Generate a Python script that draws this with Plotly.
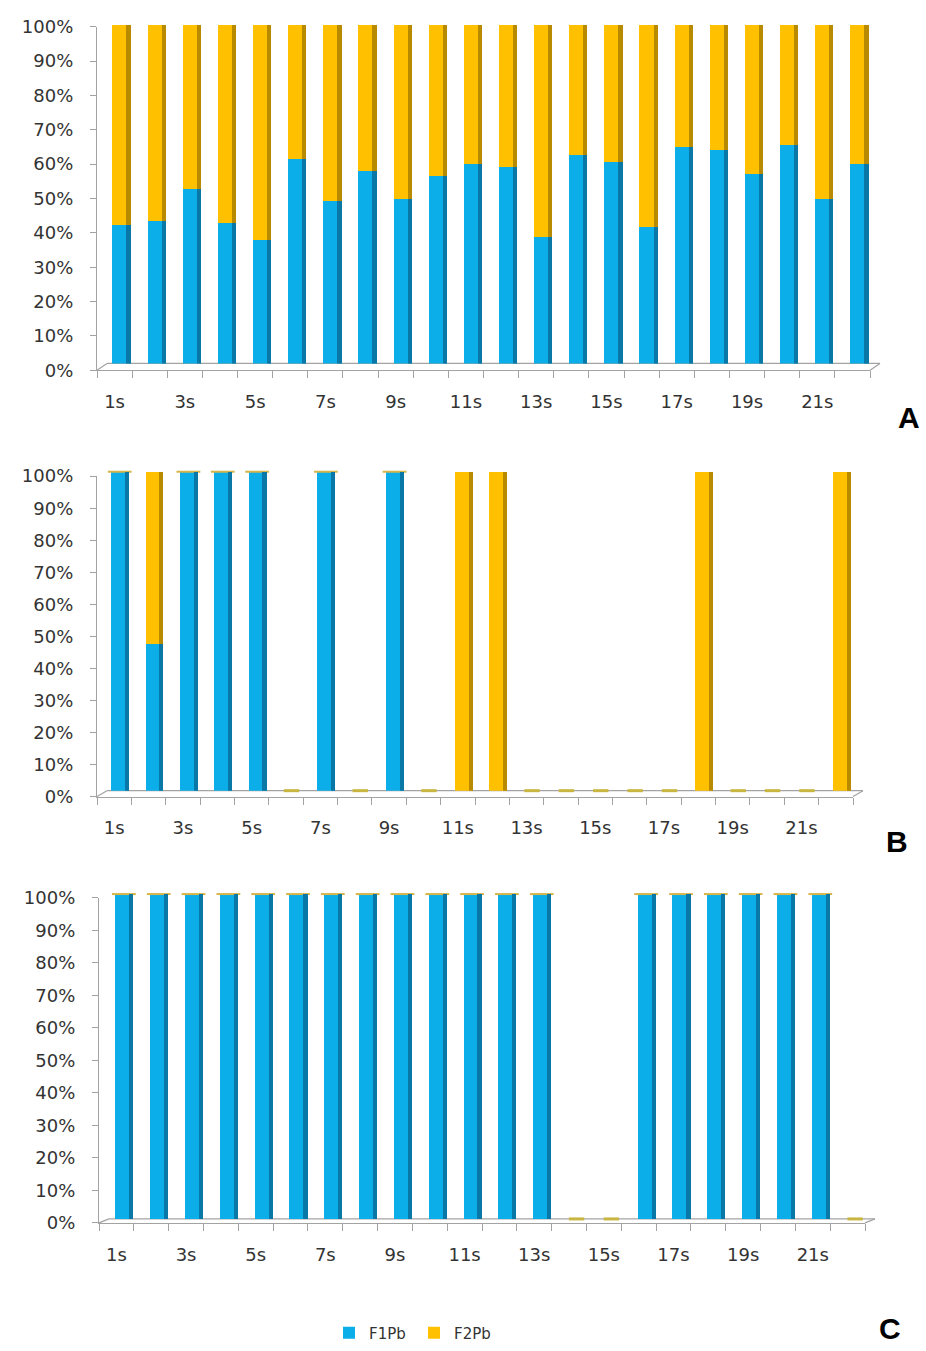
import plotly.graph_objects as go

# ---------------------------------------------------------------- data
categories = ["1s", "2s", "3s", "4s", "5s", "6s", "7s", "8s", "9s", "10s", "11s",
              "12s", "13s", "14s", "15s", "16s", "17s", "18s", "19s", "20s", "21s", "22s"]

# Panel A (percent share of each fraction)
a_f1pb = [41, 42, 51.5, 41.5, 36.5, 60.5, 48, 57, 48.5, 55.5, 59,
          58, 37.5, 61.5, 59.5, 40.5, 64, 63, 56, 64.5, 48.5, 59]
a_f2pb = [59, 58, 48.5, 58.5, 63.5, 39.5, 52, 43, 51.5, 44.5, 41,
          42, 62.5, 38.5, 40.5, 59.5, 36, 37, 44, 35.5, 51.5, 41]

# Panel B
b_f1pb = [100, 46, 100, 100, 100, 0, 100, 0, 100, 0, 0,
          0, 0, 0, 0, 0, 0, 0, 0, 0, 0, 0]
b_f2pb = [0, 54, 0, 0, 0, 0, 0, 0, 0, 0, 100,
          100, 0, 0, 0, 0, 0, 100, 0, 0, 0, 100]

# Panel C
c_f1pb = [100, 100, 100, 100, 100, 100, 100, 100, 100, 100, 100,
          100, 100, 0, 0, 100, 100, 100, 100, 100, 100, 0]
c_f2pb = [0, 0, 0, 0, 0, 0, 0, 0, 0, 0, 0,
          0, 0, 0, 0, 0, 0, 0, 0, 0, 0, 0]

series_names = ["F1Pb", "F2Pb"]
y_ticks = [0, 10, 20, 30, 40, 50, 60, 70, 80, 90, 100]
y_tick_labels = ["0%", "10%", "20%", "30%", "40%", "50%", "60%", "70%", "80%", "90%", "100%"]

# ---------------------------------------------------------------- style
W, H = 926, 1351
BLUE, BLUE_DARK = "#0BAEE8", "#0A78A6"
GOLD, GOLD_DARK = "#FFC000", "#B88A00"
FLOOR_MARK = "#C9B640"
AXIS_GREY = "#A3A3A3"
TEXT = "#333333"
FONT = "DejaVu Sans"
TICK_SIZE = 18

BAR_W = 0.52
STRIP_W = 0.12


def px(x):
    return x / W


def py(y):
    return 1 - y / H


# pixel geometry of each panel: front axes + the raised "3-D" floor the bars stand on
panels = [
    dict(f1=a_f1pb, f2=a_f2pb, x0=97, x1=870, y0=365, y1=16, by0=358, by1=14,
         dx=6.5, letter="A", lx=909, ly=413),
    dict(f1=b_f1pb, f2=b_f2pb, x0=97, x1=853, y0=798, y1=472.5, by0=792, by1=468,
         dx=5.5, letter="B", lx=897, ly=844),
    dict(f1=c_f1pb, f2=c_f2pb, x0=99, x1=865, y0=1231, y1=901, by0=1227, by1=897,
         dx=7.5, letter="C", lx=890, ly=1338),
]

fig = go.Figure()
layout = dict(
    width=W, height=H, autosize=False,
    margin=dict(l=0, r=0, t=0, b=0, pad=0),
    paper_bgcolor="white", plot_bgcolor="rgba(0,0,0,0)",
    barmode="stack", bargap=0,
    showlegend=True,
    legend=dict(orientation="h", x=px(329), y=py(1343), xanchor="left", yanchor="middle",
                font=dict(family=FONT, size=15, color=TEXT), traceorder="normal",
                itemwidth=30, entrywidth=40, entrywidthmode="pixels",
                bgcolor="rgba(0,0,0,0)"),
    shapes=[], annotations=[],
)


def key(a):
    return a[0] + "axis" + (a[1:] if a[1:] != "1" else "")


for k, p in enumerate(panels):
    n = 3 * k
    fx, fy = f"x{n + 1}", f"y{n + 1}"          # visible front axes
    bx, by = f"x{n + 2}", f"y{n + 2}"          # axes carrying the bars
    sy = f"y{n + 3}"                           # overlay for the shaded bar sides

    # front axes (ticks and labels)
    layout[key(fx)] = dict(
        type="category", domain=[px(p["x0"]), px(p["x1"])], anchor=fy,
        range=[-0.5, len(categories) - 0.5], tickson="boundaries",
        ticks="outside", ticklen=7, tickcolor=AXIS_GREY, ticklabelstep=2,
        ticklabelstandoff=15, tickangle=0,
        showline=True, linecolor=AXIS_GREY, linewidth=1.2, showgrid=False,
        zeroline=False, tickfont=dict(family=FONT, size=TICK_SIZE, color=TEXT),
    )
    layout[key(fy)] = dict(
        domain=[py(p["y0"]), py(p["y1"])], anchor=fx, range=[0, 100],
        tickmode="array", tickvals=y_ticks, ticktext=y_tick_labels,
        ticks="outside", ticklen=6, tickcolor=AXIS_GREY, ticklabelstandoff=13,
        showline=True, linecolor=AXIS_GREY, linewidth=1.2, showgrid=False,
        zeroline=False, tickfont=dict(family=FONT, size=TICK_SIZE, color=TEXT),
    )
    # hidden axes for the bars (shifted up/right like a 3-D floor)
    hidden = dict(showline=False, showgrid=False, zeroline=False,
                  showticklabels=False, ticks="")
    layout[key(bx)] = dict(type="category", domain=[px(p["x0"] + p["dx"]), px(p["x1"] + p["dx"])],
                           anchor=by, range=[-0.5, len(categories) - 0.5], **hidden)
    layout[key(by)] = dict(domain=[py(p["by0"]), py(p["by1"])], anchor=bx,
                           range=[0, 100], **hidden)
    layout[key(sy)] = dict(overlaying=by, anchor=bx, range=[0, 100], **hidden)

    # registers the categories on the front axis
    fig.add_trace(go.Scatter(x=categories, y=[None] * len(categories), mode="markers",
                             xaxis=fx, yaxis=fy, showlegend=False, hoverinfo="skip"))

    # stacked bars
    for vals, name, col in ((p["f1"], series_names[0], BLUE), (p["f2"], series_names[1], GOLD)):
        fig.add_trace(go.Bar(x=categories, y=vals, name=name, width=BAR_W,
                             marker=dict(color=col, line=dict(width=0)),
                             xaxis=bx, yaxis=by, showlegend=(k == 0), legendgroup=name))
    # darker right-hand side of each bar
    for vals, name, col in ((p["f1"], series_names[0], BLUE_DARK), (p["f2"], series_names[1], GOLD_DARK)):
        fig.add_trace(go.Bar(x=categories, y=vals, width=STRIP_W, offset=BAR_W / 2 - STRIP_W,
                             marker=dict(color=col, line=dict(width=0)),
                             xaxis=bx, yaxis=sy, showlegend=False, legendgroup=name,
                             hoverinfo="skip"))

    totals = [a + b for a, b in zip(p["f1"], p["f2"])]
    # flat discs for empty samples
    empty = [c for c, t in zip(categories, totals) if t == 0]
    if empty:
        fig.add_trace(go.Scatter(x=empty, y=[0] * len(empty), mode="markers",
                                 marker=dict(symbol="line-ew", size=11,
                                             line=dict(color=FLOOR_MARK, width=3)),
                                 xaxis=bx, yaxis=by, cliponaxis=False,
                                 showlegend=False, hoverinfo="skip"))
    # thin F2Pb cap on bars with no F2Pb share
    capped = [(c, t) for c, t, f2 in zip(categories, totals, p["f2"]) if f2 == 0 and t > 0]
    if capped:
        fig.add_trace(go.Scatter(x=[c for c, _ in capped], y=[t for _, t in capped],
                                 mode="markers",
                                 marker=dict(symbol="line-ew", size=17,
                                             line=dict(color="#D6B64A", width=2)),
                                 xaxis=bx, yaxis=by, cliponaxis=False,
                                 showlegend=False, hoverinfo="skip"))

    # floor outline
    fl = 10
    line = dict(color=AXIS_GREY, width=1.2)
    for (xa, ya, xb_, yb_) in (
        (p["x0"], p["y0"], p["x0"] + fl, p["by0"]),
        (p["x0"] + fl, p["by0"], p["x1"] + fl, p["by0"]),
        (p["x1"] + fl, p["by0"], p["x1"], p["y0"]),
    ):
        layout["shapes"].append(dict(type="line", xref="paper", yref="paper",
                                     x0=px(xa), y0=py(ya), x1=px(xb_), y1=py(yb_),
                                     line=line, layer="below"))

    layout["annotations"].append(dict(text=p["letter"], xref="paper", yref="paper",
                                      x=px(p["lx"]), y=py(p["ly"]), xanchor="center",
                                      yanchor="middle", showarrow=False,
                                      font=dict(family="Liberation Sans", size=30,
                                                color="black", weight="bold")))

fig.update_layout(**layout)
fig.write_html("out.html")
